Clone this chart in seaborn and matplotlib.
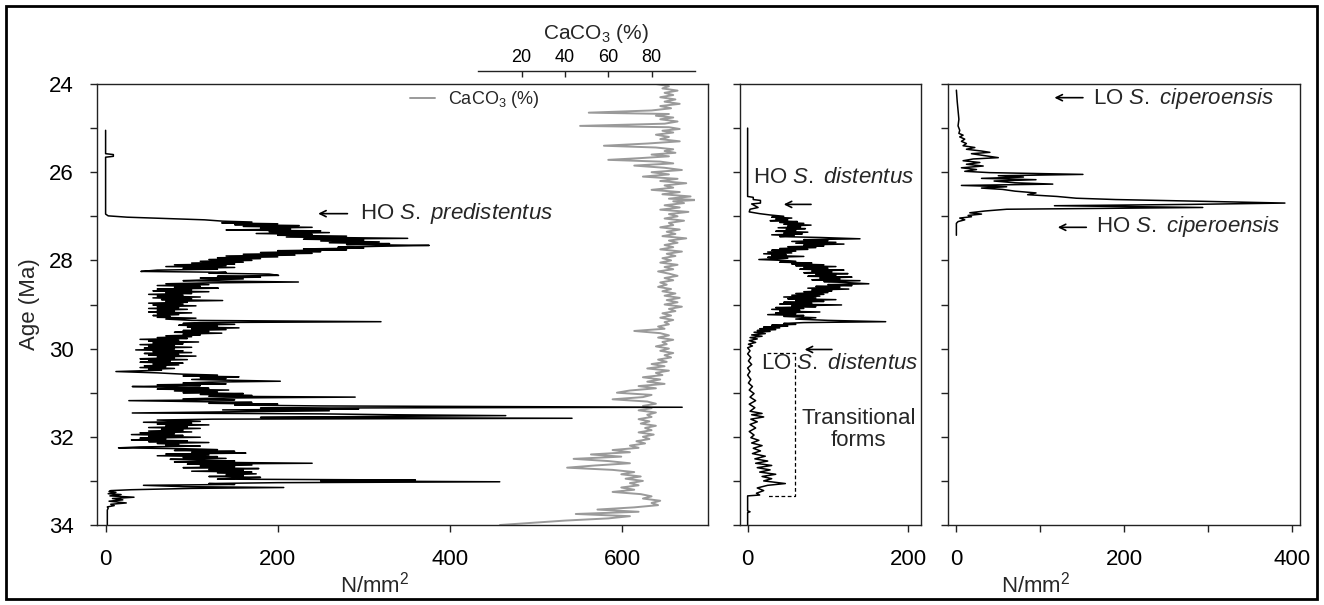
import matplotlib
matplotlib.use("Agg")
import matplotlib.pyplot as plt
import seaborn as sns
from matplotlib.patches import Rectangle

# ---------------- data ----------------
# S. predistentus abundance (N/mm2) vs age (Ma)
pred_age = [25.05, 25.58, 25.60, 25.64, 25.66, 26.95, 26.99, 27.02, 27.05, 27.08,
            27.11, 27.13, 27.15, 27.17, 27.19, 27.21, 27.23, 27.25, 27.27, 27.29,
            27.31, 27.33, 27.35, 27.37, 27.39, 27.41, 27.43, 27.45, 27.47, 27.50,
            27.52, 27.54, 27.56, 27.58, 27.60, 27.62, 27.64, 27.66, 27.68, 27.70,
            27.72, 27.74, 27.76, 27.78, 27.80, 27.82, 27.84, 27.86, 27.88, 27.90,
            27.92, 27.94, 27.96, 27.98, 28.00, 28.02, 28.04, 28.06, 28.08, 28.10,
            28.12, 28.14, 28.16, 28.18, 28.20, 28.22, 28.25, 28.27, 28.29, 28.31,
            28.34, 28.36, 28.38, 28.40, 28.42, 28.44, 28.46, 28.49, 28.51, 28.53,
            28.55, 28.57, 28.59, 28.61, 28.63, 28.65, 28.67, 28.69, 28.71, 28.73,
            28.75, 28.77, 28.79, 28.81, 28.83, 28.85, 28.87, 28.89, 28.91, 28.93,
            28.95, 28.97, 28.99, 29.01, 29.03, 29.05, 29.07, 29.09, 29.11, 29.13,
            29.15, 29.17, 29.19, 29.21, 29.23, 29.25, 29.27, 29.29, 29.31, 29.33,
            29.36, 29.39, 29.41, 29.43, 29.45, 29.47, 29.49, 29.51, 29.53, 29.55,
            29.57, 29.59, 29.61, 29.63, 29.65, 29.67, 29.69, 29.71, 29.73, 29.75,
            29.77, 29.79, 29.81, 29.83, 29.85, 29.87, 29.89, 29.91, 29.93, 29.95,
            29.97, 29.99, 30.01, 30.03, 30.05, 30.07, 30.09, 30.11, 30.13, 30.15,
            30.17, 30.19, 30.21, 30.23, 30.25, 30.27, 30.29, 30.31, 30.33, 30.35,
            30.37, 30.39, 30.41, 30.43, 30.45, 30.47, 30.49, 30.52, 30.55, 30.58,
            30.60, 30.62, 30.64, 30.66, 30.68, 30.70, 30.72, 30.74, 30.76, 30.78,
            30.80, 30.82, 30.84, 30.86, 30.88, 30.90, 30.92, 30.94, 30.96, 30.98,
            31.00, 31.02, 31.04, 31.06, 31.08, 31.10, 31.12, 31.14, 31.16, 31.18,
            31.20, 31.22, 31.24, 31.26, 31.28, 31.30, 31.33, 31.35, 31.37, 31.39,
            31.41, 31.43, 31.46, 31.48, 31.50, 31.52, 31.54, 31.56, 31.58, 31.60,
            31.62, 31.65, 31.67, 31.69, 31.71, 31.73, 31.75, 31.77, 31.79, 31.81,
            31.83, 31.85, 31.87, 31.89, 31.91, 31.93, 31.95, 31.97, 31.99, 32.01,
            32.03, 32.05, 32.07, 32.09, 32.11, 32.13, 32.15, 32.17, 32.19, 32.21,
            32.23, 32.25, 32.27, 32.29, 32.31, 32.33, 32.35, 32.37, 32.39, 32.41,
            32.43, 32.45, 32.47, 32.49, 32.51, 32.53, 32.55, 32.57, 32.60, 32.62,
            32.64, 32.66, 32.68, 32.70, 32.72, 32.74, 32.76, 32.78, 32.80, 32.82,
            32.84, 32.86, 32.88, 32.90, 32.92, 32.94, 32.96, 32.98, 33.00, 33.02,
            33.04, 33.06, 33.08, 33.10, 33.13, 33.15, 33.17, 33.20, 33.22, 33.24,
            33.26, 33.29, 33.31, 33.34, 33.37, 33.40, 33.43, 33.46, 33.50, 33.53,
            33.56, 33.59, 33.62, 33.66, 33.72, 33.80, 33.90, 34.00]
pred_n = [0, 0, 9, 9, 0, 0, 3, 25, 70, 115,
          136, 170, 135, 200, 150, 225, 160, 240, 180, 215,
          140, 250, 190, 260, 175, 240, 200, 280, 210, 351,
          230, 300, 250, 318, 260, 330, 280, 376, 318, 270,
          300, 230, 280, 200, 250, 180, 240, 160, 220, 140,
          200, 130, 180, 120, 170, 110, 160, 100, 150, 80,
          140, 70, 150, 90, 130, 60, 41, 140, 120, 190,
          201, 130, 180, 110, 160, 120, 90, 224, 120, 70,
          120, 60, 110, 80, 131, 60, 100, 55, 120, 70,
          100, 50, 90, 60, 110, 55, 100, 65, 136, 70,
          95, 50, 90, 55, 105, 60, 85, 50, 95, 60,
          80, 50, 100, 60, 85, 55, 75, 60, 105, 70,
          100, 320, 110, 90, 150, 85, 130, 95, 155, 100,
          140, 90, 120, 80, 135, 90, 110, 70, 100, 60,
          95, 40, 85, 50, 108, 55, 90, 40, 80, 50,
          100, 45, 80, 35, 90, 55, 100, 45, 85, 50,
          105, 60, 80, 40, 95, 50, 75, 40, 90, 55,
          85, 45, 70, 40, 80, 50, 65, 12, 60, 90,
          130, 90, 155, 110, 140, 100, 150, 203, 120, 90,
          140, 60, 110, 31, 80, 120, 60, 143, 80, 130,
          90, 160, 110, 170, 120, 290, 140, 90, 150, 27,
          100, 170, 120, 200, 150, 250, 670, 180, 294, 136,
          260, 160, 31, 250, 334, 465, 300, 180, 542, 124,
          60, 110, 44, 100, 60, 120, 70, 95, 50, 110,
          65, 90, 50, 100, 40, 80, 30, 90, 50, 110,
          40, 70, 30, 95, 50, 120, 60, 85, 70, 110,
          40, 15, 90, 130, 80, 150, 100, 163, 70, 120,
          60, 130, 90, 140, 75, 110, 150, 80, 240, 95,
          170, 110, 150, 90, 178, 120, 160, 100, 170, 130,
          175, 140, 160, 120, 180, 150, 130, 360, 250, 458,
          200, 120, 150, 44, 90, 207, 100, 30, 6, 4,
          12, 3, 18, 5, 33, 8, 20, 4, 24, 6,
          10, 2, 3, 2, 2, 2, 2, 2]

# CaCO3 (%) vs age (Ma)
caco3_age = [24.00, 24.05, 24.10, 24.15, 24.20, 24.25, 24.30, 24.35, 24.40, 24.45,
             24.50, 24.55, 24.60, 24.65, 24.68, 24.72, 24.76, 24.80, 24.85, 24.90,
             24.95, 24.98, 25.02, 25.06, 25.10, 25.15, 25.20, 25.25, 25.30, 25.35,
             25.40, 25.44, 25.48, 25.52, 25.56, 25.60, 25.64, 25.68, 25.72, 25.76,
             25.80, 25.85, 25.90, 25.95, 26.00, 26.05, 26.10, 26.15, 26.20, 26.25,
             26.30, 26.35, 26.40, 26.45, 26.50, 26.55, 26.60, 26.63, 26.66, 26.70,
             26.75, 26.80, 26.85, 26.90, 26.95, 27.00, 27.05, 27.10, 27.15, 27.20,
             27.25, 27.30, 27.35, 27.40, 27.45, 27.50, 27.55, 27.60, 27.65, 27.70,
             27.75, 27.80, 27.85, 27.90, 27.95, 28.00, 28.05, 28.10, 28.15, 28.20,
             28.25, 28.30, 28.35, 28.40, 28.45, 28.50, 28.55, 28.60, 28.65, 28.70,
             28.75, 28.80, 28.85, 28.90, 28.95, 29.00, 29.05, 29.10, 29.15, 29.20,
             29.25, 29.30, 29.35, 29.40, 29.45, 29.50, 29.55, 29.60, 29.65, 29.70,
             29.75, 29.80, 29.85, 29.90, 29.95, 30.00, 30.05, 30.10, 30.15, 30.20,
             30.25, 30.30, 30.35, 30.40, 30.45, 30.50, 30.55, 30.60, 30.65, 30.70,
             30.75, 30.80, 30.85, 30.90, 30.95, 31.00, 31.05, 31.10, 31.15, 31.20,
             31.25, 31.30, 31.35, 31.40, 31.45, 31.50, 31.55, 31.60, 31.65, 31.70,
             31.75, 31.80, 31.85, 31.90, 31.95, 32.00, 32.05, 32.10, 32.15, 32.20,
             32.25, 32.30, 32.35, 32.40, 32.45, 32.50, 32.55, 32.60, 32.65, 32.70,
             32.75, 32.80, 32.85, 32.90, 32.95, 33.00, 33.05, 33.10, 33.15, 33.20,
             33.25, 33.30, 33.35, 33.40, 33.45, 33.50, 33.55, 33.60, 33.65, 33.70,
             33.75, 33.80, 33.85, 33.90, 34.00]
caco3_pct = [82, 88, 85, 92, 86, 90, 84, 91, 86, 93,
             84, 89, 80, 51, 88, 82, 90, 84, 92, 86,
             47, 88, 93, 85, 90, 82, 88, 84, 93, 78,
             58, 82, 90, 86, 91, 80, 88, 75, 60, 84,
             90, 72, 86, 94, 80, 88, 76, 92, 84, 96,
             86, 90, 80, 93, 85, 98, 88, 101, 90, 95,
             86, 93, 84, 97, 88, 92, 86, 95, 88, 90,
             84, 93, 87, 91, 85, 96, 88, 92, 86, 90,
             84, 94, 87, 91, 85, 89, 84, 92, 86, 90,
             83, 88, 92, 86, 90, 84, 87, 83, 89, 85,
             91, 86, 93, 87, 92, 86, 94, 88, 91, 85,
             89, 84, 90, 86, 88, 83, 86, 72, 84, 88,
             83, 90, 85, 87, 82, 88, 84, 90, 86, 89,
             83, 87, 80, 86, 78, 88, 82, 85, 76, 84,
             78, 86, 74, 82, 70, 64, 80, 76, 62, 78,
             82, 76, 80, 74, 82, 78, 80, 74, 79, 75,
             82, 77, 80, 74, 81, 76, 79, 73, 77, 70,
             74, 62, 70, 52, 66, 44, 60, 70, 54, 41,
             62, 72, 66, 75, 68, 76, 70, 74, 66, 72,
             62, 75, 80, 76, 84, 80, 83, 72, 55, 74,
             45, 70, 60, 40, 10]

# S. distentus abundance (N/mm2) vs age (Ma)
dist_age = [25.00, 26.55, 26.57, 26.62, 26.64, 26.70, 26.72, 26.80, 26.84, 26.90,
            26.94, 26.97, 27.00, 27.02, 27.04, 27.06, 27.08, 27.10, 27.12, 27.14,
            27.16, 27.18, 27.20, 27.22, 27.24, 27.26, 27.28, 27.30, 27.32, 27.34,
            27.36, 27.38, 27.40, 27.42, 27.44, 27.46, 27.48, 27.51, 27.53, 27.55,
            27.57, 27.59, 27.61, 27.63, 27.65, 27.67, 27.69, 27.71, 27.73, 27.75,
            27.77, 27.79, 27.81, 27.83, 27.85, 27.87, 27.89, 27.91, 27.93, 27.95,
            27.98, 28.00, 28.02, 28.04, 28.06, 28.08, 28.10, 28.12, 28.14, 28.16,
            28.18, 28.20, 28.22, 28.24, 28.26, 28.28, 28.30, 28.32, 28.34, 28.36,
            28.38, 28.40, 28.42, 28.44, 28.46, 28.48, 28.50, 28.53, 28.55, 28.57,
            28.59, 28.61, 28.63, 28.65, 28.67, 28.69, 28.71, 28.73, 28.75, 28.77,
            28.79, 28.81, 28.83, 28.85, 28.87, 28.89, 28.91, 28.93, 28.95, 28.97,
            28.99, 29.01, 29.03, 29.05, 29.07, 29.09, 29.11, 29.13, 29.15, 29.17,
            29.19, 29.21, 29.23, 29.25, 29.27, 29.30, 29.33, 29.36, 29.39, 29.41,
            29.43, 29.45, 29.47, 29.49, 29.51, 29.53, 29.55, 29.57, 29.59, 29.61,
            29.63, 29.66, 29.69, 29.72, 29.75, 29.78, 29.82, 29.86, 29.90, 29.94,
            29.98, 30.05, 30.12, 30.20, 30.28, 30.36, 30.44, 30.52, 30.60, 30.70,
            30.78, 30.86, 30.94, 31.02, 31.10, 31.18, 31.26, 31.34, 31.42, 31.47,
            31.50, 31.55, 31.60, 31.66, 31.72, 31.80, 31.88, 31.96, 32.02, 32.08,
            32.14, 32.20, 32.26, 32.32, 32.38, 32.44, 32.50, 32.55, 32.60, 32.65,
            32.70, 32.75, 32.80, 32.85, 32.90, 32.95, 33.00, 33.06, 33.10, 33.16,
            33.22, 33.28, 33.32, 33.34, 33.68, 33.70, 33.72, 34.00]
dist_n = [0, 0, 7, 7, 16, 16, 5, 13, 3, 2,
          15, 28, 45, 30, 55, 35, 50, 28, 62, 40,
          70, 45, 79, 50, 66, 38, 72, 48, 60, 35,
          75, 45, 68, 30, 58, 40, 90, 140, 70, 100,
          55, 110, 60, 120, 70, 95, 50, 85, 40, 75,
          30, 60, 25, 55, 20, 48, 30, 70, 25, 50,
          14, 45, 60, 40, 80, 55, 95, 60, 110, 70,
          100, 65, 120, 80, 105, 70, 125, 85, 110, 75,
          130, 90, 115, 80, 140, 95, 120, 151, 100, 130,
          85, 115, 75, 126, 80, 105, 70, 100, 60, 95,
          55, 90, 45, 85, 50, 110, 60, 95, 45, 80,
          40, 117, 55, 85, 35, 70, 30, 65, 40, 90,
          35, 60, 25, 70, 45, 85, 60, 100, 172, 70,
          45, 60, 30, 50, 20, 40, 15, 35, 12, 28,
          8, 22, 5, 18, 3, 12, 2, 10, 1, 6,
          0, 3, 0, 4, 1, 5, 0, 3, 0, 4,
          1, 6, 2, 8, 3, 10, 2, 9, 3, 18,
          5, 20, 4, 12, 3, 10, 2, 8, 4, 14,
          5, 18, 7, 16, 6, 22, 9, 25, 10, 30,
          12, 28, 15, 35, 18, 30, 20, 47, 25, 12,
          20, 11, 15, 0, 0, 3, 0, 0]

# S. ciperoensis abundance (N/mm2) vs age (Ma)
cip_age = [24.14, 24.40, 24.60, 24.80, 24.95, 25.05, 25.12, 25.16, 25.20, 25.25,
           25.30, 25.35, 25.40, 25.44, 25.48, 25.52, 25.55, 25.58, 25.62, 25.67,
           25.70, 25.74, 25.78, 25.82, 25.86, 25.90, 25.94, 25.98, 26.01, 26.05,
           26.08, 26.11, 26.14, 26.17, 26.20, 26.24, 26.27, 26.30, 26.33, 26.36,
           26.39, 26.43, 26.47, 26.51, 26.55, 26.59, 26.62, 26.66, 26.70, 26.73,
           26.76, 26.80, 26.84, 26.88, 26.92, 26.95, 26.98, 27.01, 27.04, 27.08,
           27.12, 27.16, 27.43]
cip_n = [0, 1, 2, 3, 2, 4, 3, 8, 4, 10,
         6, 12, 8, 22, 12, 30, 40, 18, 32, 50,
         20, 8, 28, 12, 32, 6, 24, 10, 40, 151,
         50, 80, 30, 95, 45, 70, 115, 6, 60, 30,
         55, 70, 95, 85, 120, 143, 190, 294, 392, 280,
         117, 294, 60, 34, 16, 30, 14, 18, 4, 10,
         2, 0, 0]

# event markers (age in Ma) and labels
age_ticks = [24, 25, 26, 27, 28, 29, 30, 31, 32, 33, 34]
age_labels = ["24", "", "26", "", "28", "", "30", "", "32", "", "34"]
ho_predistentus = 26.94
ho_distentus = 26.73
lo_distentus = 30.02
transitional_top, transitional_bottom = 30.10, 33.34
lo_ciperoensis = 24.31
ho_ciperoensis = 27.25

# ---------------- style ----------------
sns.set_theme(style="ticks")
plt.rcParams["font.family"] = ["Liberation Sans", "DejaVu Sans"]
plt.rcParams["mathtext.fontset"] = "custom"
plt.rcParams["mathtext.rm"] = "Liberation Sans"
plt.rcParams["mathtext.it"] = "Liberation Sans:italic"
plt.rcParams["mathtext.bf"] = "Liberation Sans:bold"
FS = 16
SP = "#222222"

W, H = 1324, 605
fig = plt.figure(figsize=(W / 100, H / 100), dpi=100)
fig.patch.set_facecolor("white")


def rect(x0, x1, y0=84, y1=525):
    return [x0 / W, 1 - y1 / H, (x1 - x0) / W, (y1 - y0) / H]


ax1 = fig.add_axes(rect(97, 708))
axc = fig.add_axes(rect(478.3, 694.9))
ax2 = fig.add_axes(rect(740, 921))
ax3 = fig.add_axes(rect(948, 1300))

axc.set_zorder(1)
ax1.set_zorder(2)
ax1.patch.set_visible(False)
axc.patch.set_visible(False)


def style_panel(ax, xlim, xticks, xlabels, ylabels):
    ax.set_ylim(34, 24)
    ax.set_xlim(*xlim)
    ax.set_yticks(age_ticks, ylabels if ylabels else [""] * len(age_ticks))
    ax.set_xticks(xticks, xlabels)
    for s in ax.spines.values():
        s.set_visible(True)
        s.set_linewidth(1.0)
        s.set_color(SP)
    ax.tick_params(direction="out", length=5, width=1.0, pad=12,
                   labelsize=FS, colors=SP, labelcolor="black")
    ax.set_xlabel("")
    ax.set_ylabel("")


# ---------------- panels ----------------
sns.lineplot(x=pred_n, y=pred_age, sort=False, estimator=None, orient="y",
             color="black", lw=1.1, ax=ax1)
sns.lineplot(x=caco3_pct, y=caco3_age, sort=False, estimator=None, orient="y",
             color="#9a9a9a", lw=1.4, ax=axc, label="CaCO$_3$ (%)")
sns.lineplot(x=dist_n, y=dist_age, sort=False, estimator=None, orient="y",
             color="black", lw=1.1, ax=ax2)
sns.lineplot(x=cip_n, y=cip_age, sort=False, estimator=None, orient="y",
             color="black", lw=1.1, ax=ax3)

style_panel(ax1, (-10, 700), [0, 200, 400, 600], ["0", "200", "400", "600"], age_labels)
style_panel(ax2, (-9.5, 216), [0, 200], ["0", "200"], None)
style_panel(ax3, (-10, 410), [0, 100, 200, 300, 400], ["0", "", "200", "", "400"], None)

ax1.set_ylabel("Age (Ma)", fontsize=FS, labelpad=6)
ax1.set_xlabel("N/mm$^2$", fontsize=FS)
ax1.xaxis.set_label_coords(0.455, -0.105)
ax3.set_xlabel("N/mm$^2$", fontsize=FS)
ax3.xaxis.set_label_coords(0.25, -0.105)

# CaCO3 top axis
axc.set_ylim(34, 24)
axc.set_xlim(0, 100)
for side in ["left", "right", "bottom"]:
    axc.spines[side].set_visible(False)
axc.spines["top"].set_visible(True)
axc.spines["top"].set_position(("outward", 9.6))
axc.spines["top"].set_linewidth(1.0)
axc.spines["top"].set_color(SP)
axc.set_yticks([])
axc.set_ylabel("")
axc.xaxis.set_ticks_position("top")
axc.xaxis.set_label_position("top")
axc.set_xticks([20, 40, 60, 80], ["20", "40", "60", "80"])
axc.tick_params(axis="x", direction="in", length=4, width=1.0, pad=3,
                labelsize=13, colors=SP, labelcolor="black")
axc.set_xlabel("CaCO$_3$ (%)", fontsize=15)
axc.xaxis.set_label_coords(0.5425, 1.102)
axc.legend(loc="center left", bbox_to_anchor=(410 / W, 1 - 100 / H),
           bbox_transform=fig.transFigure, frameon=False, fontsize=13,
           handlelength=1.4, handletextpad=0.7, borderpad=0, borderaxespad=0)

# ---------------- annotations ----------------
arrow_kw = dict(arrowstyle="->", lw=1.2, color="black",
                shrinkA=0, shrinkB=0, mutation_scale=11)

ax1.annotate("", xy=(247, ho_predistentus), xytext=(281, ho_predistentus),
             arrowprops=arrow_kw)
ax1.text(296, ho_predistentus, r"HO $\mathit{S.\ predistentus}$", fontsize=FS,
         va="center", ha="left")

ax2.text(7, 26.13, r"HO $\mathit{S.\ distentus}$", fontsize=FS, va="center", ha="left")
ax2.annotate("", xy=(45, ho_distentus), xytext=(79, ho_distentus), arrowprops=arrow_kw)
ax2.annotate("", xy=(71, lo_distentus), xytext=(105, lo_distentus), arrowprops=arrow_kw)
ax2.text(17, 30.34, r"LO $\mathit{S.\ distentus}$", fontsize=FS, va="center", ha="left")
ax2.plot([24, 59, 59, 24],
         [transitional_top, transitional_top, transitional_bottom, transitional_bottom],
         ls=(0, (3, 2)), lw=0.9, color="black")
ax2.text(138, 31.83, "Transitional\nforms", fontsize=FS, ha="center", va="center",
         linespacing=1.1)

ax3.annotate("", xy=(117, lo_ciperoensis), xytext=(151, lo_ciperoensis), arrowprops=arrow_kw)
ax3.text(163, 24.34, r"LO $\mathit{S.\ ciperoensis}$", fontsize=FS, va="center", ha="left")
ax3.annotate("", xy=(121, ho_ciperoensis), xytext=(155, ho_ciperoensis), arrowprops=arrow_kw)
ax3.text(167, 27.24, r"HO $\mathit{S.\ ciperoensis}$", fontsize=FS, va="center", ha="left")

# outer frame
fig.patches.append(Rectangle((6 / W, 6 / H), (1317 - 6) / W, (599 - 6) / H,
                             transform=fig.transFigure, fill=False, lw=2.0,
                             edgecolor="black"))

fig.savefig("out.png", dpi=100)
